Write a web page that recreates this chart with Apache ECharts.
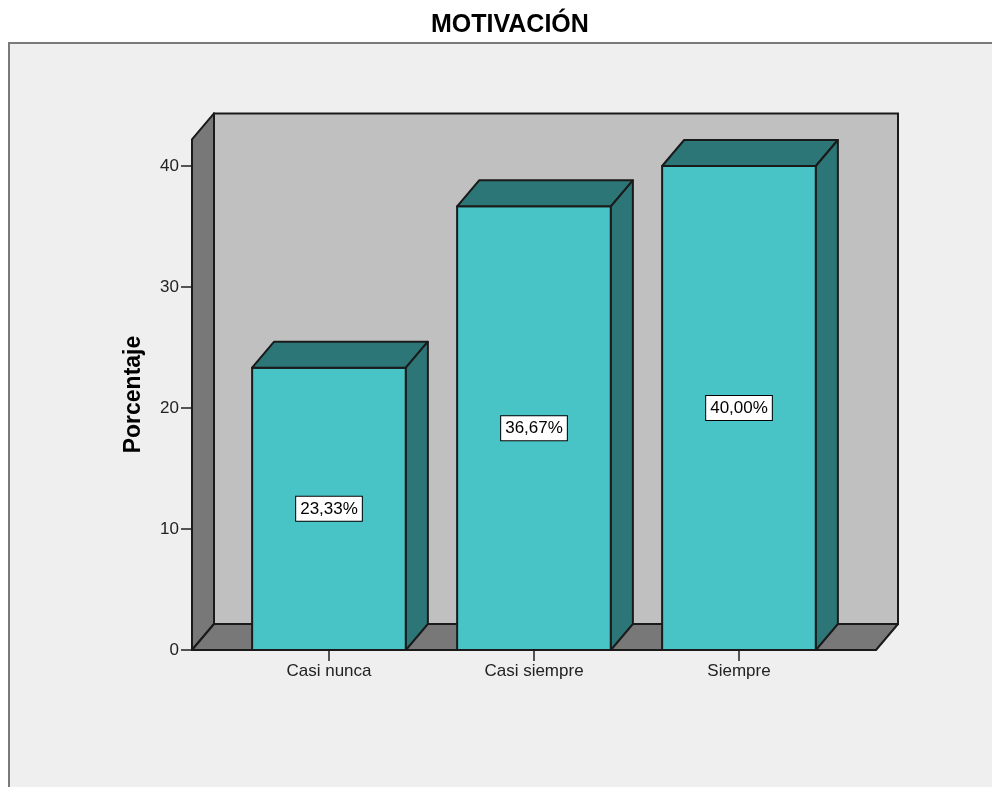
<!DOCTYPE html>
<html>
<head>
<meta charset="utf-8">
<title>MOTIVACIÓN</title>
<script src="https://cdn.jsdelivr.net/npm/echarts@6/dist/echarts.min.js"></script>
<style>
html, body { margin: 0; padding: 0; background: #fff; }
#chart { width: 992px; height: 787px; }
</style>
</head>
<body>
<div id="chart"></div>
<script>
// datos
var categories = ['Casi nunca', 'Casi siempre', 'Siempre'];
var porcentajes = [23.33, 36.67, 40.00];
var yTicks = [0, 10, 20, 30, 40];

// efecto 3D
var DX = 22, DY = -26;
var EXT = 34.5;      // el suelo sobresale de las categorias
var TOP_VAL = 42.2;  // alto de las paredes
var LINE = '#1a1a1a';
var FONT = '"Liberation Sans", Arial, sans-serif';

function fmt(v) { return v.toFixed(2).replace('.', ',') + '%'; }

var chart = echarts.init(document.getElementById('chart'));

function renderWalls(params, api) {
    var cs = params.coordSys;
    var x0 = cs.x - EXT, x1 = cs.x + cs.width + EXT;
    var yb = api.coord([0, 0])[1];
    var yt = api.coord([0, TOP_VAL])[1];
    return {
        type: 'group',
        children: [
            { type: 'rect', shape: { x: x0 + DX, y: yt + DY, width: x1 - x0, height: yb - yt },
              style: { fill: '#c0c0c0', stroke: LINE, lineWidth: 2 } },
            { type: 'polygon', shape: { points: [[x0, yb], [x0, yt], [x0 + DX, yt + DY], [x0 + DX, yb + DY]] },
              style: { fill: '#787878', stroke: LINE, lineWidth: 2, lineJoin: 'round' } },
            { type: 'polygon', shape: { points: [[x0, yb], [x1, yb], [x1 + DX, yb + DY], [x0 + DX, yb + DY]] },
              style: { fill: '#787878', stroke: LINE, lineWidth: 2, lineJoin: 'round' } }
        ]
    };
}

function renderBar(params, api) {
    var c = api.value(0), v = api.value(1);
    var p0 = api.coord([c, 0]), p1 = api.coord([c, v]);
    var mid = api.coord([c, v / 2]);
    var w = api.size([1, 0])[0] * 0.75;
    var xl = p0[0] - w / 2, xr = p0[0] + w / 2, yb = p0[1], yt = p1[1];
    var st = { stroke: LINE, lineWidth: 2, lineJoin: 'round' };
    return {
        type: 'group',
        children: [
            { type: 'rect', shape: { x: xl, y: yt, width: w, height: yb - yt },
              style: Object.assign({ fill: '#48c3c6' }, st) },
            { type: 'polygon', shape: { points: [[xl, yt], [xr, yt], [xr + DX, yt + DY], [xl + DX, yt + DY]] },
              style: Object.assign({ fill: '#2d7677' }, st) },
            { type: 'polygon', shape: { points: [[xr, yb], [xr, yt], [xr + DX, yt + DY], [xr + DX, yb + DY]] },
              style: Object.assign({ fill: '#2d7677' }, st) },
            { type: 'text', x: mid[0], y: mid[1],
              style: { text: fmt(v), fill: '#000', fontSize: 17, fontFamily: FONT,
                       align: 'center', verticalAlign: 'middle',
                       backgroundColor: '#fff', borderColor: '#000', borderWidth: 1,
                       padding: [4, 4, 3, 4] } }
        ]
    };
}

chart.setOption({
    backgroundColor: '#fff',
    animation: false,
    title: {
        text: 'MOTIVACIÓN',
        left: 426,
        top: 8,
        textStyle: { fontSize: 25, fontWeight: 'bold', color: '#000', fontFamily: FONT }
    },
    graphic: [{
        type: 'rect', z: -10,
        shape: { x: 9, y: 43, width: 1000, height: 800 },
        style: { fill: '#efefef', stroke: '#7a7a7a', lineWidth: 2 }
    }],
    grid: { left: 226.5, right: 150.5, top: 166, bottom: 137 },
    xAxis: {
        type: 'category',
        data: categories,
        axisLine: { show: false },
        axisTick: { show: true, alignWithLabel: true, length: 11, lineStyle: { color: '#222', width: 1.5 } },
        axisLabel: { fontSize: 17, color: '#222', margin: 13, fontFamily: FONT },
        splitLine: { show: false }
    },
    yAxis: {
        type: 'value',
        min: yTicks[0],
        max: yTicks[yTicks.length - 1],
        interval: 10,
        offset: 34.5,
        name: 'Porcentaje',
        nameLocation: 'middle',
        nameGap: 47,
        nameTextStyle: { fontSize: 23, fontWeight: 'bold', color: '#000', fontFamily: FONT,
                         padding: [0, 0, 0, 27] },
        axisLine: { show: false },
        axisTick: { show: true, length: 11, lineStyle: { color: '#222', width: 1.5 } },
        axisLabel: { fontSize: 17, color: '#222', margin: 13, fontFamily: FONT },
        splitLine: { show: false }
    },
    series: [
        {
            type: 'custom',
            z: 1,
            renderItem: renderWalls,
            data: [[categories[0], 0]],
            silent: true
        },
        {
            type: 'custom',
            z: 2,
            renderItem: renderBar,
            data: porcentajes.map(function (v, i) { return [categories[i], v]; })
        }
    ]
});
</script>
</body>
</html>
